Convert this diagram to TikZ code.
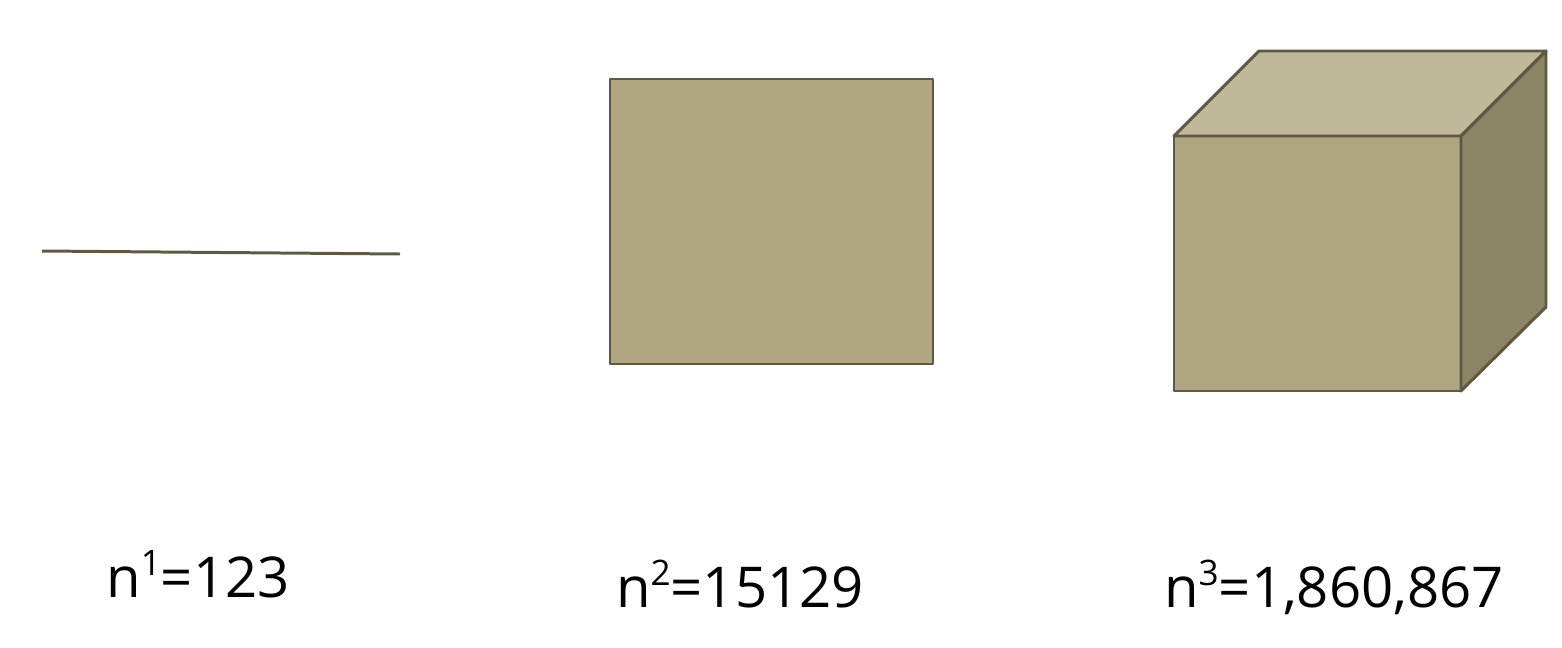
\documentclass[tikz,border=0pt]{standalone}
\usepackage{fontspec}
\setmainfont{Open Sans}
\definecolor{olivedark}{RGB}{95, 88, 66}
\definecolor{olivefront}{RGB}{176, 166, 129}
\definecolor{olivetop}{RGB}{192, 184, 154}
\definecolor{oliveside}{RGB}{139, 133, 102}
\newcommand{\powsup}[1]{\raisebox{6pt}{\fontsize{10}{12}\selectfont #1}}

\begin{document}
\begin{tikzpicture}[x=0.01cm, y=-0.01cm,
    edge/.style={draw=olivedark, line width=0.85pt, line join=round},
    caption/.style={anchor=base, font=\fontsize{16}{19}\selectfont, inner sep=0pt}]
    \useasboundingbox (0,0) rectangle (1562,648);
    % one dimension
    \coordinate (l1) at (42,251);
    \coordinate (l2) at (400,254);
    \draw[edge] (l1) -- (l2);
    % two dimensions
    \draw[edge, fill=olivefront] (610,79) rectangle (933,364);
    % three dimensions
    \draw[edge, fill=olivefront] (1174,136) rectangle (1461,391);
    \draw[edge, fill=olivetop] (1174,136) -- (1259,51) -- (1546,51) -- (1461,136) -- cycle;
    \draw[edge, fill=oliveside] (1461,136) -- (1546,51) -- (1546,307) -- (1461,391) -- cycle;
    % labels
    \node[caption] (c1) at (198,597) {n\powsup{1}=123};
    \node[caption] (c2) at (740,607) {n\powsup{2}=15129};
    \node[caption] (c3) at (1334,607) {n\powsup{3}=1,860,867};
  \end{tikzpicture}
\end{document}
